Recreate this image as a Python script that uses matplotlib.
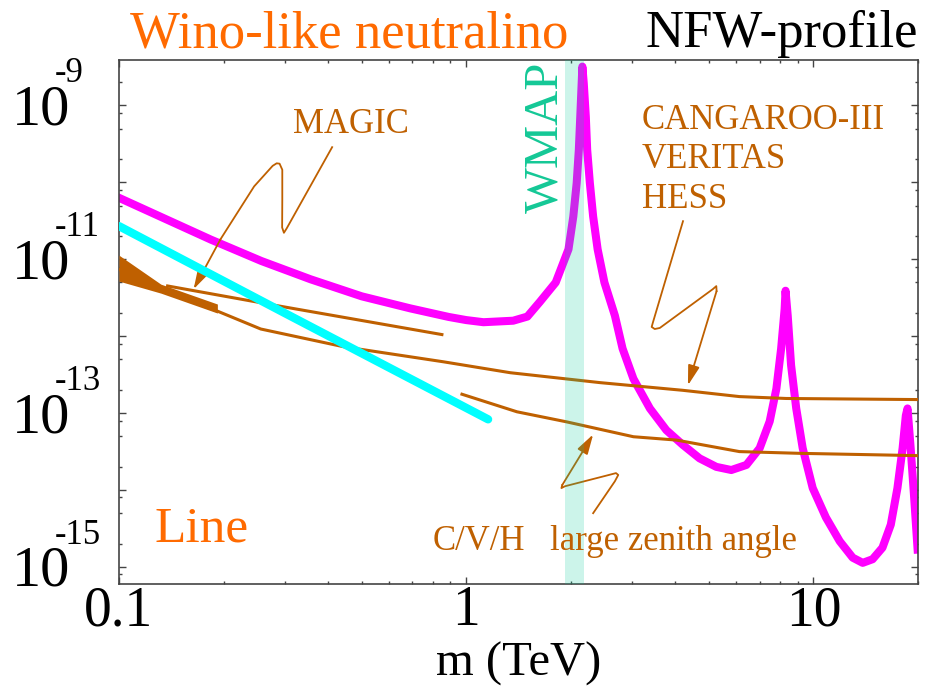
import numpy as np
import matplotlib
matplotlib.use("Agg")
import matplotlib.pyplot as plt
from matplotlib.ticker import LogLocator, NullFormatter, FixedLocator
from matplotlib.transforms import blended_transform_factory, ScaledTranslation

plt.rcParams['font.family'] = ['Liberation Serif', 'DejaVu Serif']

# wino-like neutralino line signal (NFW), sigma*v vs mass
wino_mass = [0.1, 0.135, 0.184, 0.257, 0.356, 0.5, 0.690, 0.89, 1.0, 1.121, 1.365, 1.50,
             1.63, 1.81, 1.97, 2.034, 2.08, 2.11, 2.13, 2.16,
             2.18, 2.21, 2.23, 2.27, 2.32, 2.39, 2.50, 2.68, 2.82, 3.03, 3.38, 3.77, 4.21,
             4.70, 5.25, 5.80, 6.41, 7.0, 7.48, 7.82, 8.07, 8.26, 8.31,
             8.43, 8.62, 8.92, 9.31, 9.95, 10.86, 11.9, 12.97, 13.86, 14.8, 15.8, 16.7,
             17.45, 18.06, 18.45, 18.66, 19.05, 19.5, 19.95]
wino_sigma = [6.3e-11, 3.4e-11, 1.8e-11, 9.5e-12, 5.5e-12, 3.3e-12, 2.3e-12, 1.78e-12, 1.62e-12,
              1.52e-12, 1.59e-12, 1.8e-12,
              2.8e-12, 5.0e-12, 1.35e-11, 3.6e-11, 9.8e-11, 2.65e-10, 7.1e-10, 3.2e-9,
              1.94e-9, 7.1e-10, 2.65e-10, 9.8e-11, 3.6e-11, 1.35e-11, 5.0e-12, 1.85e-12,
              6.9e-13, 2.8e-13, 1.15e-13, 6.0e-14, 3.85e-14,
              2.58e-14, 2.0e-14, 1.82e-14, 2.12e-14, 3.5e-14, 7.8e-14, 2.08e-13, 6.9e-13,
              2.26e-12, 3.9e-12,
              1.85e-12, 4.2e-13, 1.15e-13, 3.5e-14, 1.06e-14, 4.4e-15, 2.16e-15, 1.32e-15,
              1.13e-15, 1.26e-15, 1.78e-15, 3.55e-15,
              1.06e-14, 3.5e-14, 9.3e-14, 1.15e-13, 3.5e-14, 7.9e-15, 1.68e-15]

# cyan line
cyan_mass = [0.1, 0.3, 1.156]
cyan_sigma = [2.7e-11, 2.0e-12, 8.3e-14]

# MAGIC sensitivity
magic_mass = [0.138, 0.286, 0.851]
magic_sigma = [4.5e-12, 2.49e-12, 1.05e-12]

# CANGAROO-III / VERITAS / HESS sensitivity
cvh_mass = [0.1, 0.132, 0.192, 0.256, 0.443, 0.859, 1.34, 2.43, 4.2, 6.12, 8.34, 20.0]
cvh_sigma = [7.4e-12, 4.0e-12, 2.12e-12, 1.24e-12, 7.3e-13, 4.65e-13, 3.35e-13, 2.49e-13,
             1.98e-13, 1.64e-13, 1.55e-13, 1.5e-13]

# large zenith angle
lza_mass = [0.972, 1.40, 1.945, 3.03, 4.03, 6.12, 9.12, 20.0]
lza_sigma = [1.76e-13, 1.04e-13, 7.7e-14, 4.93e-14, 4.46e-14, 3.16e-14, 3.0e-14, 2.8e-14]

# low-mass wedge
wedge_mass = [0.1, 0.132, 0.192]
wedge_upper = [1.13e-11, 4.75e-12, 2.62e-12]
wedge_lower = [5.2e-12, 3.63e-12, 2.0e-12]

wmap_range = (1.92, 2.18)

# annotation arrows (mass, sigma)
magic_arrow_m = [0.411, 0.304, 0.2985, 0.295, 0.2953, 0.2953, 0.290, 0.2845, 0.277, 0.245, 0.196, 0.164]
magic_arrow_s = [2.87e-10, 2.52e-11, 2.21e-11, 2.59e-11, 5.97e-11, 1.46e-10, 1.75e-10, 1.77e-10,
                 1.64e-10, 8.87e-11, 1.82e-11, 4.09e-12]
cvh_arrow_m = [4.21, 3.45, 3.42, 3.49, 3.61, 5.13, 5.25, 5.26, 4.35]
cvh_arrow_s = [3.13e-11, 1.52e-12, 1.32e-12, 1.24e-12, 1.28e-12, 4.09e-12, 4.48e-12, 3.86e-12, 2.3e-13]
lza_arrow_m = [2.32, 2.68, 2.74, 2.70, 2.59, 1.925, 1.88, 1.89, 2.32]
lza_arrow_s = [5.0e-15, 1.30e-14, 1.57e-14, 1.66e-14, 1.58e-14, 1.12e-14, 1.06e-14, 1.16e-14, 5.28e-14]

ylabel_exps = [-9, -11, -13, -15]
xticks = [0.1, 1, 10]
xticklabels = ['0.1', '1', '10']

brown = '#BF6000'
orange = '#FF6A00'
magenta = '#FF00FF'
cyan = '#00FFFF'
teal = '#14C896'

fig = plt.figure(figsize=(9.28, 6.96), dpi=100)
W, H = 928, 696
ax = fig.add_axes([119 / W, 1 - 584 / H, (918 - 119) / W, (584 - 60) / H])
ax.set_xscale('log')
ax.set_yscale('log')
ax.set_xlim(0.1, 20)
ax.set_ylim(6e-16, 3.9e-9)

ax.plot(wino_mass, wino_sigma, color=magenta, lw=5.8, zorder=2, solid_joinstyle='round')
ax.fill_between(wedge_mass, wedge_lower, wedge_upper, color=brown, lw=0, zorder=3)
ax.plot(magic_mass, magic_sigma, color=brown, lw=2.2, zorder=3)
ax.plot(cvh_mass, cvh_sigma, color=brown, lw=2.2, zorder=3)
ax.plot(lza_mass, lza_sigma, color=brown, lw=2.2, zorder=3)
ax.plot(cyan_mass, cyan_sigma, color=cyan, lw=6, zorder=4, solid_capstyle='round')

for am, asg in [(magic_arrow_m, magic_arrow_s), (cvh_arrow_m, cvh_arrow_s), (lza_arrow_m, lza_arrow_s)]:
    ax.plot(am[:-1], asg[:-1], color=brown, lw=1.3, zorder=3, solid_joinstyle='round')
    ax.annotate('', xy=(am[-1], asg[-1]), xytext=(am[-2], asg[-2]),
                arrowprops=dict(arrowstyle='-|>,head_length=1.2,head_width=0.35',
                                color=brown, lw=1.3, shrinkA=0, shrinkB=0), zorder=3)

ax.axvspan(wmap_range[0], wmap_range[1], color='#00CC99', alpha=0.2, lw=0, zorder=5)

# ticks
ax.xaxis.set_major_locator(FixedLocator(xticks))
ax.set_xticklabels(xticklabels)
ax.xaxis.set_minor_locator(LogLocator(base=10, subs=np.arange(2, 10), numticks=20))
ax.xaxis.set_minor_formatter(NullFormatter())
ax.yaxis.set_major_locator(LogLocator(base=10, numticks=20))
ax.yaxis.set_minor_locator(LogLocator(base=10, subs=(2, 5, 8), numticks=20))
ax.yaxis.set_minor_formatter(NullFormatter())
ax.tick_params(which='both', direction='in', top=True, right=True, width=1, color='#444444')
ax.tick_params(which='major', length=5)
ax.tick_params(which='minor', length=2.3)
ax.tick_params(axis='y', labelleft=False)
ax.tick_params(axis='x', labelsize=40, pad=1)
for s in ax.spines.values():
    s.set_color('#444444')
    s.set_linewidth(1.2)

ax.set_xlabel('m (TeV)', fontsize=35, labelpad=3)

# y labels as 10^n
tr = blended_transform_factory(fig.transFigure, ax.transData)
for e in ylabel_exps:
    ax.text(70 / W, 10.0 ** e, '10', fontsize=42, ha='right', va='baseline',
            transform=tr + ScaledTranslation(0, -0.19, fig.dpi_scale_trans), clip_on=False)
    ax.text(55 / W, 10.0 ** e, '-%d' % -e, fontsize=25, ha='left', va='baseline',
            transform=tr + ScaledTranslation(0, 0.23, fig.dpi_scale_trans), clip_on=False)

# titles and labels
fig.text(130 / W, 1 - 47 / H, 'Wino-like neutralino', color=orange, fontsize=38, va='baseline')
fig.text(918 / W, 1 - 47 / H, 'NFW-profile', color='black', fontsize=38, va='baseline', ha='right')
fig.text(293 / W, 1 - 133 / H, 'MAGIC', color=brown, fontsize=25, va='baseline')
fig.text(642 / W, 1 - 129 / H, 'CANGAROO-III', color=brown, fontsize=25, va='baseline')
fig.text(642 / W, 1 - 168 / H, 'VERITAS', color=brown, fontsize=25, va='baseline')
fig.text(642 / W, 1 - 208 / H, 'HESS', color=brown, fontsize=25, va='baseline')
fig.text(433 / W, 1 - 550 / H, 'C/V/H', color=brown, fontsize=25, va='baseline')
fig.text(550 / W, 1 - 550 / H, 'large zenith angle', color=brown, fontsize=25, va='baseline')
fig.text(154 / W, 1 - 542 / H, 'Line', color=orange, fontsize=37, va='baseline')
fig.text(557 / W, 1 - 213 / H, 'WMAP', color=teal, fontsize=35, rotation=90,
         rotation_mode='anchor', ha='left', va='baseline')

fig.savefig('out.png', dpi=100)
